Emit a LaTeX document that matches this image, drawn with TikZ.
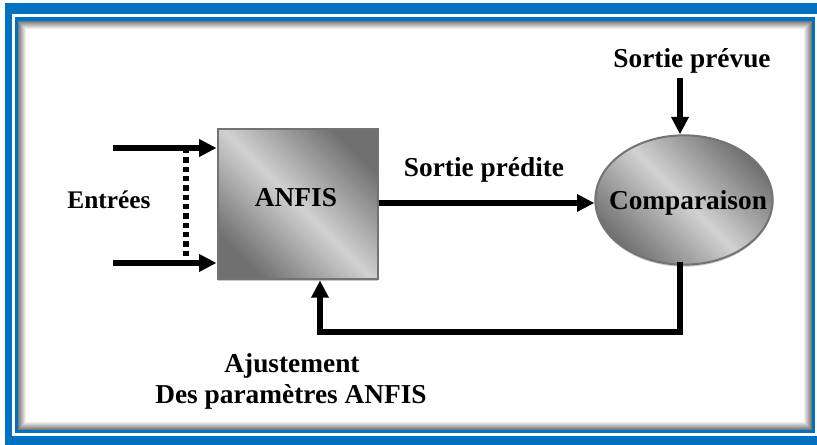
\documentclass[tikz,border=0pt]{standalone}
\usepackage{fontspec}
\setmainfont{Liberation Serif}
\usetikzlibrary{arrows.meta,shapes.geometric,shadows}
\definecolor{frameblue}{RGB}{0,112,192}
\begin{document}
\begin{tikzpicture}[x=0.75pt,y=-0.75pt,
  lbl/.style={font=\fontsize{20.5}{24}\bfseries\selectfont, inner sep=0pt, anchor=base},
  conn/.style={line width=4pt, -{Triangle[length=13pt,width=12.5pt]}},
  greyshade/.style={left color=black!56, right color=black!56, middle color=black!18, shading angle=-45},
  anfisbox/.style={rectangle, greyshade, draw=black!55, line width=1.5pt,
    minimum width=120pt, minimum height=113pt, inner sep=0pt,
    drop shadow={shadow xshift=0pt, shadow yshift=-1.5pt, fill=black!35, opacity=0.6}},
  cmpell/.style={ellipse, greyshade, draw=black!55, line width=1.5pt,
    minimum width=133pt, minimum height=97pt, inner sep=0pt,
    drop shadow={shadow xshift=0pt, shadow yshift=-1.5pt, fill=black!35, opacity=0.6}}
]
\useasboundingbox (0,0) rectangle (817,445);
% frame
\fill[white] (0,0) rectangle (817,445);
\fill[frameblue] (5,3) rectangle (840,460);
\fill[white] (12,14) rectangle (819,436);
\fill[frameblue] (15,17) rectangle (815,433);
\fill[white] (18,21) rectangle (812,430);
\foreach \i [evaluate=\i as \c using 52-6.5*\i] in {0,...,7}
  \draw[line width=0.75pt, black!\c] (18.5+\i,21.5+\i) rectangle (811.5-\i,429.5-\i);

% nodes
\node[anfisbox] (anfis) at (297.5,204) {};
\node[lbl] (anfislbl) at (296,207) {ANFIS};
\node[cmpell] (cmp) at (684,200) {};
\node[lbl] (cmplbl) at (688,210) {Comparaison};
\node[lbl] (spv) at (692,68) {Sortie prévue};
\node[lbl] (spd) at (484,177) {Sortie prédite};
\node[lbl, font=\fontsize{19}{22}\bfseries\selectfont] (ent) at (109,209) {Entrées};
\node[lbl] (aj1) at (292,372) {Ajustement};
\node[lbl] (aj2) at (291,403) {Des paramètres ANFIS};

% connectors
\coordinate (in1) at (113,148);
\coordinate (in2) at (113,263);
\coordinate (d1) at (186,148);
\coordinate (d2) at (186,263);
\draw[conn] (in1) -- (in1 -| anfis.west);
\draw[conn] (in2) -- (in2 -| anfis.west);
\draw[line width=5pt, dash pattern=on 4pt off 3pt] (d1) -- (d2);
\draw[conn] (anfis.east |- 0,203) -- (cmp.west |- 0,203);
\coordinate (spvtail) at (680,78);
\draw[conn] (spvtail) -- (spvtail |- cmp.north);
\coordinate (fbstart) at (680,262);
\coordinate (fbcorner) at (320,332);
\draw[line width=4pt, -{Triangle[length=13pt,width=12.5pt]}, line join=miter]
  (fbstart) |- (fbcorner) -- (fbcorner |- anfis.south);
\end{tikzpicture}
\end{document}
